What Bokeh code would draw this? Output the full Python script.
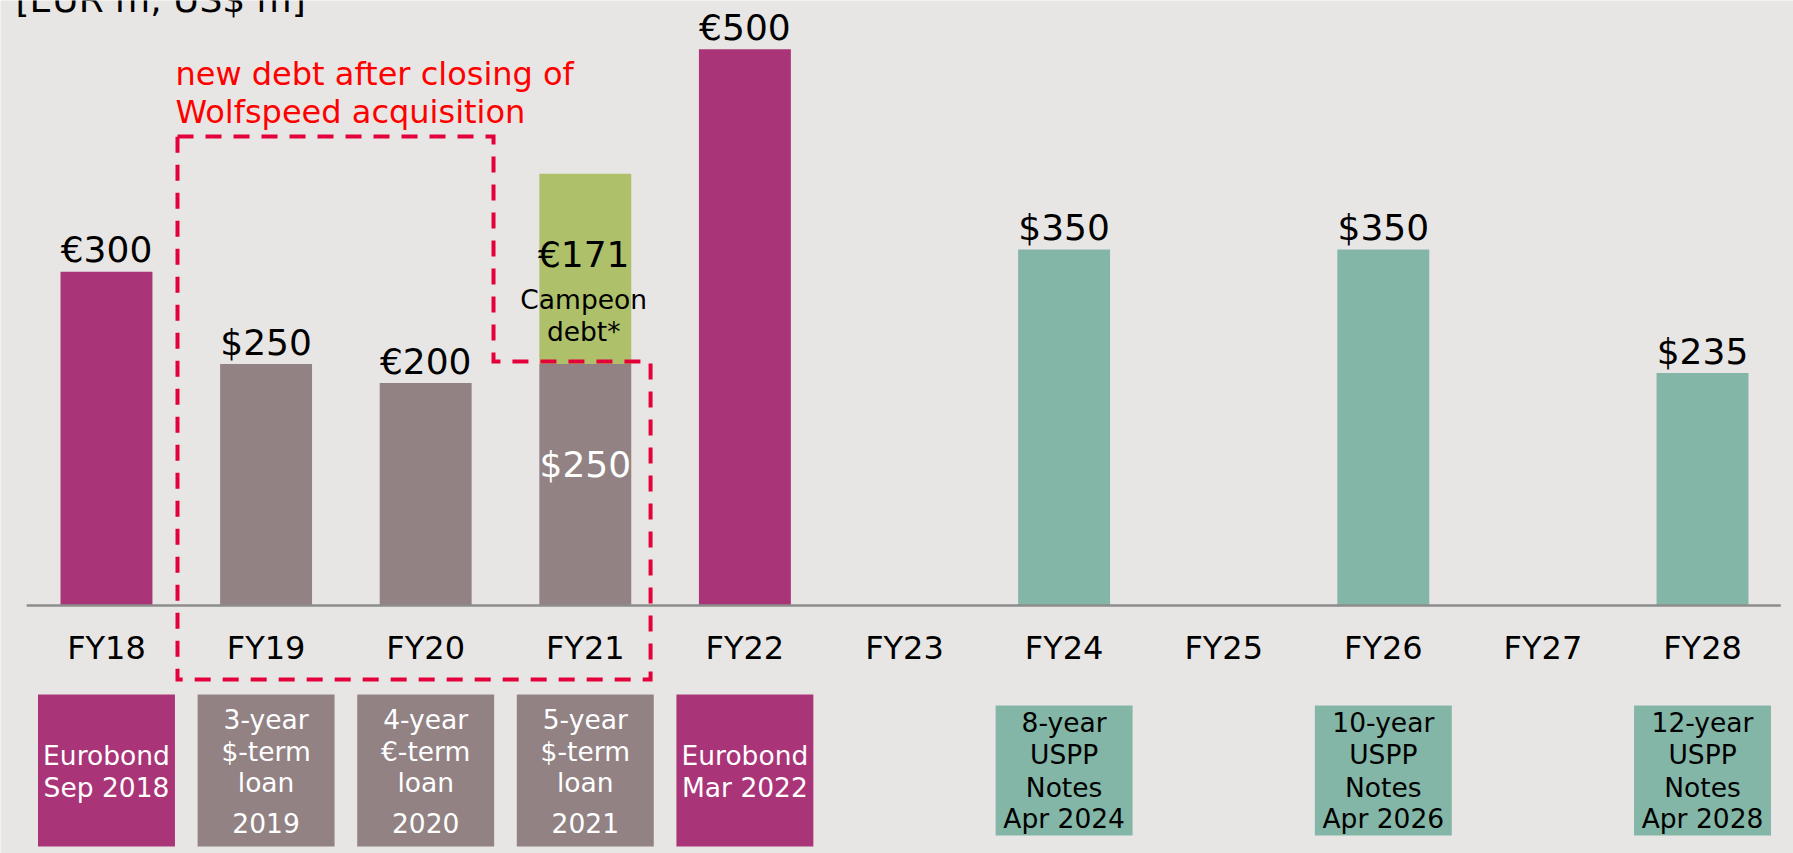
import numpy as np
from bokeh.plotting import figure
from bokeh.models import Range1d, ColumnDataSource
from bokeh.core.properties import value
from bokeh.embed import file_html
from bokeh.resources import INLINE

# ---------------- data ----------------
categories = ["FY18", "FY19", "FY20", "FY21", "FY22", "FY23",
              "FY24", "FY25", "FY26", "FY27", "FY28"]
# bar heights (EUR m equivalent)
base_values = [300, 217, 200, 217, 500, 0, 320, 0, 320, 0, 209]
campeon_values = [0, 0, 0, 171, 0, 0, 0, 0, 0, 0, 0]
bar_labels = ["€300", "$250", "€200", "", "€500", "", "$350", "", "$350", "", "$235"]
inner_label_fy21 = "$250"
campeon_label = "€171"
campeon_text = ["Campeon", "debt*"]
bar_kind = ["eurobond", "loan", "loan", "loan", "eurobond", None,
            "uspp", None, "uspp", None, "uspp"]
box_lines = [
    ["Eurobond", "Sep 2018"],
    ["3-year", "$-term", "loan", "2019"],
    ["4-year", "€-term", "loan", "2020"],
    ["5-year", "$-term", "loan", "2021"],
    ["Eurobond", "Mar 2022"],
    None,
    ["8-year", "USPP", "Notes", "Apr 2024"],
    None,
    ["10-year", "USPP", "Notes", "Apr 2026"],
    None,
    ["12-year", "USPP", "Notes", "Apr 2028"],
]
unit_title = "[EUR m, US$ m]"
annotation_lines = ["new debt after closing of", "Wolfspeed acquisition"]

# ---------------- style ----------------
BG = "#E8E6E4"
KIND_COLOR = {"eurobond": "#A93478", "loan": "#928284", "uspp": "#83B6A6"}
KIND_TEXT = {"eurobond": "white", "loan": "white", "uspp": "black"}
GREEN = "#AFC06A"
RED_DASH = "#E4003A"
RED_TEXT = "#FF0000"
FONT = value("DejaVu Sans")

PX = 1 / 1.1126  # data units per pixel (vertical)
BASE_FIX = 0.36  # em: shift so that the glyph baseline lands on the target


def ytext(y, fs):
    """data y of a wanted baseline, corrected for the renderer's baseline."""
    return np.asarray(y, dtype=float) + BASE_FIX * fs * PX


W, H = 1793, 853
p = figure(width=W, height=H,
           x_range=Range1d(-0.664, 10.570), y_range=Range1d(-222.9, 543.8),
           output_backend="svg", toolbar_location=None,
           x_axis_location=None, y_axis_location=None,
           min_border=0, background_fill_color=BG, border_fill_color=BG,
           outline_line_color=None)
p.grid.visible = False

idx = np.arange(len(categories))
BAR_W = 0.576

# main bars
colors = [KIND_COLOR[k] if k else BG for k in bar_kind]
mask = [v > 0 for v in base_values]
src = ColumnDataSource(dict(
    x=idx[mask], top=np.array(base_values)[mask],
    color=np.array(colors)[mask],
))
p.vbar(x="x", top="top", bottom=0, width=BAR_W, fill_color="color",
       line_color=None, source=src)

# stacked Campeon segment
cmask = [v > 0 for v in campeon_values]
bottoms = np.array(base_values)[cmask]
p.vbar(x=idx[cmask], bottom=bottoms, top=bottoms + np.array(campeon_values)[cmask],
       width=BAR_W, fill_color=GREEN, line_color=None)

# baseline
p.segment(x0=[idx[0] - 0.5], x1=[idx[-1] + 0.49], y0=[0], y1=[0],
          line_color="#8C8C8C", line_width=2.5)

# value labels above bars
FS_VAL = 36
lmask = [bool(t) for t in bar_labels]
p.text(x=idx[lmask], y=ytext(np.array(base_values)[lmask] + 9 * PX, FS_VAL),
       text=np.array(bar_labels)[lmask], text_align="center",
       text_baseline="alphabetic", text_font=FONT,
       text_font_size=value(f"{FS_VAL}px"), text_color="black")

# FY21 inner labels
i21 = categories.index("FY21")
b21 = base_values[i21]
c21 = campeon_values[i21]
p.text(x=[i21], y=ytext([b21 - 113 * PX], FS_VAL), text=[inner_label_fy21],
       text_align="center", text_baseline="alphabetic", text_font=FONT,
       text_font_size=value(f"{FS_VAL}px"), text_color="white")
p.text(x=[i21 - 0.01], y=ytext([b21 + c21 / 2 + 1], FS_VAL), text=[campeon_label],
       text_align="center", text_baseline="alphabetic", text_font=FONT,
       text_font_size=value(f"{FS_VAL}px"), text_color="black")
FS_CAMP = 26.5
p.text(x=[i21 - 0.01] * 2, y=ytext([b21 + 55 * PX, b21 + 23 * PX], FS_CAMP),
       text=campeon_text, text_align="center", text_baseline="alphabetic",
       text_font=FONT, text_font_size=value(f"{FS_CAMP}px"), text_color="black")

# category labels
FS_CAT = 32
p.text(x=idx, y=ytext([-54 * PX] * len(idx), FS_CAT), text=categories,
       text_align="center", text_baseline="alphabetic", text_font=FONT,
       text_font_size=value(f"{FS_CAT}px"), text_color="black")

# boxes with descriptions below the axis
BOX_W = 0.858
FS_BOX = 26.5
box_geom = {  # (top px below baseline, bottom px below baseline, line baselines px from box top)
    "eurobond": (89, 241, [71, 103]),
    "loan": (89, 241, [35, 67, 98, 138]),
    "uspp": (100, 230, [27, 59, 92, 123]),
}
bx, btop, bbot, bcol = [], [], [], []
tx, ty, tt, tc = [], [], [], []
for i, lines in enumerate(box_lines):
    if not lines:
        continue
    k = bar_kind[i]
    t_px, b_px, offs = box_geom[k]
    bx.append(i)
    btop.append(-t_px * PX)
    bbot.append(-b_px * PX)
    bcol.append(KIND_COLOR[k])
    for line, off in zip(lines, offs):
        tx.append(i)
        ty.append(-(t_px + off) * PX)
        tt.append(line)
        tc.append(KIND_TEXT[k])
p.vbar(x=bx, top=btop, bottom=bbot, width=BOX_W, fill_color=bcol, line_color=None)
p.text(x=tx, y=ytext(ty, FS_BOX), text=tt, text_color=tc, text_align="center",
       text_baseline="alphabetic", text_font=FONT,
       text_font_size=value(f"{FS_BOX}px"))

# dashed outline around new debt
left = 1 - 0.555
mid = 2 + 0.425
right = 3 + 0.409
y_top = 421.6
y_step = 219.3
y_bot = -66.5
p.line(x=[left, mid, mid, right, right, left, left],
       y=[y_top, y_top, y_step, y_step, y_bot, y_bot, y_top],
       line_color=RED_DASH, line_width=4, line_dash="16 12", line_join="miter")

# annotation text
FS_ANN = 32
p.text(x=[0.432, 0.432], y=ytext([(605 - 85) * PX, (605 - 123) * PX], FS_ANN),
       text=annotation_lines, text_align="left", text_baseline="alphabetic",
       text_font=FONT, text_font_size=value(f"{FS_ANN}px"), text_color=RED_TEXT)

# unit title (cut at the top in the original)
p.text(x=[-0.57], y=ytext([(605 - 12) * PX], FS_VAL), text=[unit_title],
       text_align="left", text_baseline="alphabetic", text_font=FONT,
       text_font_size=value(f"{FS_VAL}px"), text_color="black")

html = file_html(p, INLINE)
html = html.replace("<body>", '<body style="background:%s">' % BG, 1)
open("out.html", "w").write(html)
